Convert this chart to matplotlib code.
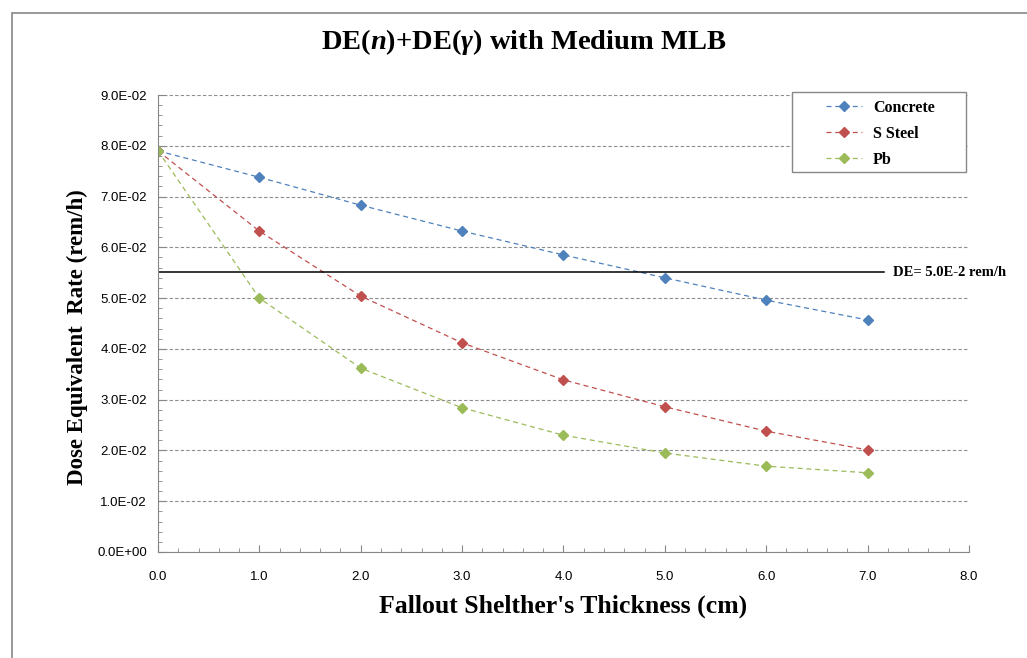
import matplotlib
matplotlib.use('Agg')
import matplotlib.pyplot as plt
from matplotlib.ticker import FuncFormatter, MultipleLocator
from matplotlib.patches import Rectangle

thickness = [0, 1, 2, 3, 4, 5, 6, 7]
concrete = [0.0790, 0.0738, 0.0683, 0.0632, 0.0585, 0.0540, 0.0496, 0.0457]
s_steel = [0.0790, 0.0632, 0.0504, 0.0412, 0.0339, 0.0286, 0.0238, 0.0201]
pb = [0.0790, 0.0500, 0.0362, 0.0284, 0.0230, 0.0195, 0.0169, 0.0156]
limit_y = 0.0551
limit_x = [0, 7.16]
limit_label = 'DE= 5.0E-2 rem/h'

plt.rcParams['mathtext.fontset'] = 'custom'
plt.rcParams['mathtext.rm'] = 'Liberation Serif:bold'
plt.rcParams['mathtext.it'] = 'Liberation Serif:italic:bold'

serif = 'Liberation Serif'
sans = 'Liberation Sans'

def sci_fmt(v, pos):
    return '%.1E' % v

fig = plt.figure(figsize=(10.27, 6.58), dpi=100)
# outer chart-area border (runs off the right and bottom edges)
fig.patches.append(Rectangle((12 / 1027, -0.1), 1.2, 1 - 13 / 658 + 0.1,
                             transform=fig.transFigure, fill=False,
                             edgecolor='#888888', linewidth=1.2))
ax = fig.add_axes([0.1538, 0.1611, 0.7897, 0.6945])

ax.plot(thickness, concrete, '--D', color='#4F81BD', markersize=5, linewidth=0.9,
        dashes=(4, 3), label='Concrete')
ax.plot(thickness, s_steel, '--D', color='#C0504D', markersize=5, linewidth=0.9,
        dashes=(4, 3), label='S Steel')
ax.plot(thickness, pb, '--D', color='#9BBB59', markersize=5, linewidth=0.9,
        dashes=(4, 3), label='Pb')

ax.plot(limit_x, [limit_y, limit_y], color='black', linewidth=1.1)
ax.text(7.25, limit_y, limit_label, fontsize=10.5, fontweight='bold', family=serif,
        va='center', ha='left')

ax.set_xlim(0, 8)
ax.set_ylim(0, 0.09)
ax.xaxis.set_major_locator(MultipleLocator(1))
ax.xaxis.set_minor_locator(MultipleLocator(0.2))
ax.yaxis.set_major_locator(MultipleLocator(0.01))
ax.yaxis.set_minor_locator(MultipleLocator(0.002))
ax.xaxis.set_major_formatter(FuncFormatter(lambda v, p: '%.1f' % v))
ax.yaxis.set_major_formatter(FuncFormatter(sci_fmt))
ax.yaxis.grid(True, linestyle=(0, (3, 2)), color='#8c8c8c', linewidth=0.8)
ax.set_axisbelow(True)

for side in ['top', 'right']:
    ax.spines[side].set_visible(False)
for side in ['left', 'bottom']:
    ax.spines[side].set_color('#868686')
ax.tick_params(which='both', direction='in', color='#868686', labelsize=9.5)
ax.tick_params(which='major', length=5)
ax.tick_params(which='minor', length=3)
ax.tick_params(axis='x', pad=14)
ax.tick_params(axis='y', pad=8)
for lbl in ax.get_xticklabels() + ax.get_yticklabels():
    lbl.set_family(sans)

fig.text(524 / 1027, 1 - 42 / 658, r'DE($n$)+DE($\gamma$) with Medium MLB',
         fontsize=20.5, fontweight='bold', family=serif, ha='center', va='center')
ax.set_xlabel("Fallout Shelther's Thickness (cm)", fontsize=18.5, fontweight='bold',
              family=serif, labelpad=8)
ax.set_ylabel('Dose Equivalent  Rate (rem/h)', fontsize=16.5, fontweight='bold',
              family=serif)
ax.yaxis.set_label_coords(-0.086, 0.47)

# legend frame drawn separately to get Excel-like padding
ax.add_patch(Rectangle((0.7818, 0.8315), 0.2145, 0.1751, transform=ax.transAxes,
                       fill=True, facecolor='white', edgecolor='#888888',
                       linewidth=1.0, clip_on=False, zorder=4))
leg = ax.legend(loc='upper left', bbox_to_anchor=((826 - 158) / 811, (552 - 100) / 457),
                frameon=False, borderpad=0, borderaxespad=0, labelspacing=0.62,
                handlelength=2.25, handletextpad=0.7,
                prop={'family': serif, 'weight': 'bold', 'size': 11.5})
leg.set_zorder(5)

plt.savefig('out.png', dpi=100)
